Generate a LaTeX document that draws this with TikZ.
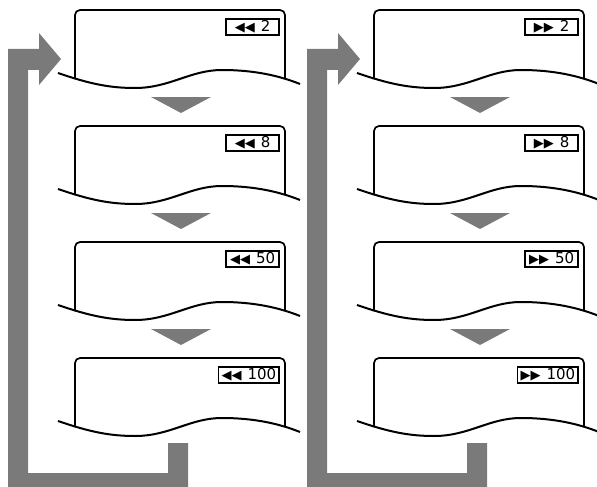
\documentclass[tikz,border=0pt]{standalone}
\usepackage{fontspec}
\setsansfont{DejaVu Sans}
\usepackage{xcolor}
\definecolor{flowgray}{RGB}{122,122,122}
\newcommand{\spdsym}[1]{{\fontsize{13}{13}\selectfont#1\kern0pt#1}\kern6pt}
\tikzset{
  screen/.style={line width=1.7pt, rounded corners=5pt},
  wave/.style={line width=2pt},
  speedlabel/.style={draw, line width=1.6pt, inner xsep=3pt, inner ysep=0pt,
    minimum height=16pt, minimum width=53pt, anchor=north east,
    font=\sffamily\fontsize{15}{15}\selectfont},
  flow/.style={fill=flowgray},
}

\begin{document}
\begin{tikzpicture}[x=1pt,y=-1pt]
  \useasboundingbox (0,0) rectangle (597,487);
  \foreach \col/\sym in {0/◀, 299/▶} {
    % return arrow
    \fill[flow, shift={(\col,0)}] (8,495) -- (8,49) -- (39,49) -- (39,33) -- (61,59)
      -- (39,85) -- (39,70) -- (28,70) -- (28,473) -- (168,473) -- (168,443)
      -- (188,443) -- (188,495) -- cycle;
    \foreach \row/\speed in {0/2, 116/8, 232/50, 348/100} {
      \begin{scope}[shift={(\col,\row)}]
        \draw[screen] (75,79) -- (75,10) -- (285,10) -- (285,78);
        \draw[wave] (58,73) .. controls (90,84) and (110,88) .. (135,88)
          .. controls (170,88) and (190,70) .. (222,70)
          .. controls (255,70) and (280,76) .. (300,84);
        \node[speedlabel] (lbl-\col-\row) at (280,18) {\spdsym{\sym}\speed};
        \ifnum\row<348
          \fill[flow] (151,97) -- (211,97) -- (181,113) -- cycle;
        \fi
      \end{scope}
    }
  }
\end{tikzpicture}
\end{document}
